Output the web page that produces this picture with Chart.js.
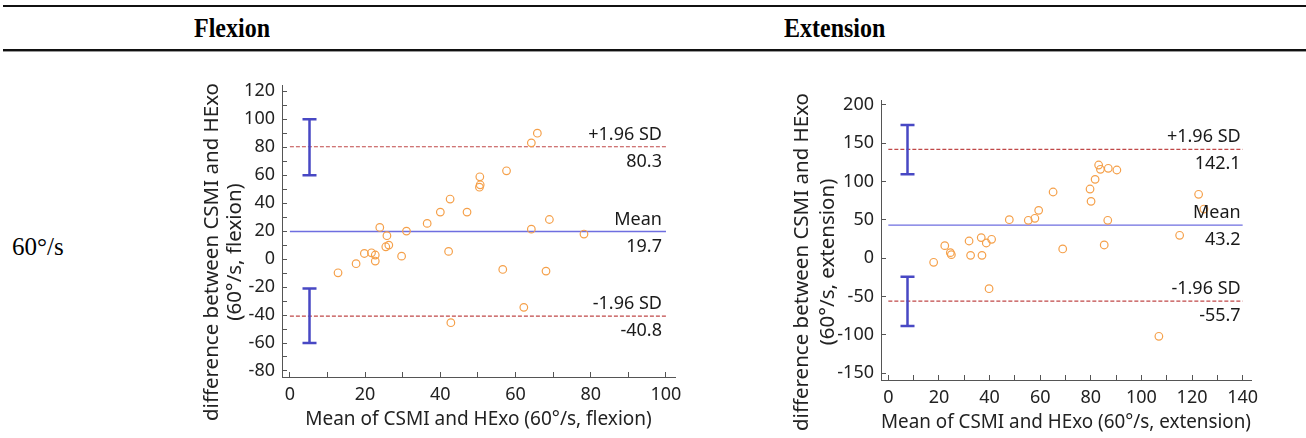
<!DOCTYPE html>
<html>
<head>
<meta charset="utf-8">
<script src="https://cdn.jsdelivr.net/npm/chart.js@4.4.0/dist/chart.umd.min.js"></script>
<style>
html, body { margin: 0; padding: 0; background: #fff; }
body { width: 1306px; height: 438px; position: relative; overflow: hidden; color: #000; }
.rule { position: absolute; left: 3px; width: 1303px; }
.serif { font-family: "Liberation Serif", "Times New Roman", "DejaVu Serif", serif; }
.head { position: absolute; top: 17px; font-size: 24px; line-height: 24px; font-weight: bold; transform: scaleY(1.12); transform-origin: 50% 85%; }
.row { position: absolute; left: 12px; top: 234px; font-size: 25px; line-height: 25px; }
.plot { position: absolute; top: 80px; }
</style>
</head>
<body>
<div class="rule" style="top:5px;height:2px;background:#111"></div>
<div class="rule" style="top:49px;height:2px;background:#111;border-bottom:1px solid #999"></div>
<div class="head serif" style="left:194px">Flexion</div>
<div class="head serif" style="left:784px">Extension</div>
<div class="row serif">60°/s</div>

<div class="plot" style="left:190px"><canvas id="flexChart" width="500" height="358"></canvas></div>
<div class="plot" style="left:780px"><canvas id="extChart" width="520" height="358"></canvas></div>

<script>
// bland-altman plots, 60°/s flexion and extension

// --------------------
// data
// --------------------
const flexMean = [12.8, 17.6, 19.8, 21.7, 22.7, 22.7, 23.9, 25.8, 25.5, 26.3, 29.7, 31.0, 36.5, 40.0, 42.6,
                  42.2, 42.8, 47.1, 50.5, 50.6, 50.4, 57.6, 56.6, 62.2, 64.2, 65.8, 64.2, 69.0, 68.1, 78.2];
const flexDiff = [-9.8, -3.3, 4.0, 4.5, 2.9, -1.4, 22.6, 16.7, 8.8, 10.0, 2.1, 20.0, 25.5, 33.6, 42.9,
                  5.5, -45.5, 33.6, 58.8, 53.1, 51.4, 63.1, -7.4, -34.5, 83.1, 90.0, 21.4, 28.3, -8.6, 17.9];

const extMean = [17.9, 22.3, 24.5, 24.9, 31.9, 32.5, 36.7, 37.0, 38.7, 40.8, 39.8, 47.8, 55.3, 57.9, 59.4,
                 65.1, 68.9, 79.7, 80.1, 81.7, 83.1, 83.8, 86.9, 90.3, 86.7, 85.3, 106.9, 115.1, 122.6, 124.7];
const extDiff = [-5.2, 16.5, 7.4, 4.8, 22.6, 3.9, 27.0, 3.9, 20.0, 24.8, -39.6, 50.4, 49.6, 52.2, 62.6,
                 86.5, 12.2, 90.4, 74.3, 103.0, 121.7, 116.1, 117.4, 115.2, 49.6, 17.4, -101.7, 30.0, 83.5, 64.3];

// limits of agreement: upper, mean, lower
const limitNames = ["+1.96 SD", "Mean", "-1.96 SD"];
const flexLimits = [80.3, 19.7, -40.8];
const extLimits = [142.1, 43.2, -55.7];

// 95% CI of the upper / lower limit
const flexCI = [[60, 100], [-21, -60]];
const extCI = [[109.6, 173.9], [-24, -88.3]];

// tick values
const flexXTicks = [0, 10, 20, 30, 40, 50, 60, 70, 80, 90, 100];
const flexYTicks = [-80, -70, -60, -50, -40, -30, -20, -10, 0, 10, 20, 30, 40, 50, 60, 70, 80, 90, 100, 110, 120];
const extXTicks = [0, 10, 20, 30, 40, 50, 60, 70, 80, 90, 100, 110, 120, 130, 140];
const extYTicks = [-150, -100, -50, 0, 50, 100, 150, 200];


// draws the CI error bars, the labels of the limit lines and the y title
const agreementPlugin = {
    id: "agreement",
    afterDatasetsDraw(chart, args, opts) {
        const ctx = chart.ctx;
        const xs = chart.scales.x;
        const ys = chart.scales.y;
        ctx.save();

        ctx.strokeStyle = "#4848c4";
        ctx.lineWidth = 2.5;
        const px = Math.round(xs.getPixelForValue(opts.ciX)) + 0.5;
        opts.ci.forEach(([a, b]) => {
            const y1 = ys.getPixelForValue(a);
            const y2 = ys.getPixelForValue(b);
            ctx.beginPath();
            ctx.moveTo(px, y1); ctx.lineTo(px, y2);
            ctx.moveTo(px - 7, y1); ctx.lineTo(px + 7, y1);
            ctx.moveTo(px - 7, y2); ctx.lineTo(px + 7, y2);
            ctx.stroke();
        });

        ctx.font = opts.font;
        ctx.fillStyle = "#1a1a1a";
        ctx.textAlign = "right";
        ctx.textBaseline = "alphabetic";
        const right = xs.getPixelForValue(opts.xEnd) - opts.inset;
        opts.limits.forEach((v, i) => {
            const py = ys.getPixelForValue(v);
            ctx.fillText(limitNames[i], right, py - 7);
            ctx.fillText(v.toFixed(1), right, py + 20);
        });
        ctx.restore();
    },
    afterDraw(chart, args, opts) {
        const ctx = chart.ctx;
        ctx.save();
        ctx.font = opts.yTitleFont;
        ctx.fillStyle = "#222";
        ctx.textAlign = "center";
        ctx.textBaseline = "middle";
        opts.yTitle.forEach((line, i) => {
            ctx.save();
            ctx.translate(opts.yTitleX[i], opts.yTitleY);
            ctx.rotate(-Math.PI / 2);
            ctx.fillText(line, 0, 0);
            ctx.restore();
        });
        ctx.restore();
    }
};


function limitLine(v, xEnd, color, dash, width) {
    return {
        data: [{ x: 0, y: v }, { x: xEnd, y: v }],
        showLine: true,
        borderColor: color,
        borderWidth: width,
        borderDash: dash,
        pointRadius: 0,
        order: 2
    };
}

function baChart(id, p) {
    const points = p.mean.map((m, i) => ({ x: m, y: p.diff[i] }));
    return new Chart(document.getElementById(id), {
        type: "scatter",
        data: {
            datasets: [
                {
                    data: points,
                    pointStyle: "circle",
                    pointRadius: 3.8,
                    borderWidth: 1.2,
                    borderColor: "#f5a04a",
                    backgroundColor: "rgba(0,0,0,0)",
                    order: 0
                },
                limitLine(p.limits[0], p.xEnd, "#c04848", [4, 2], 1.2),
                limitLine(p.limits[1], p.xEnd, "#6e6ee0", [], 1.3),
                limitLine(p.limits[2], p.xEnd, "#c04848", [4, 2], 1.2)
            ]
        },
        options: {
            responsive: false,
            animation: false,
            layout: { padding: p.pad },
            plugins: {
                legend: { display: false },
                tooltip: { enabled: false },
                agreement: {
                    ci: p.ci, ciX: p.ciX, limits: p.limits, xEnd: p.xEnd, inset: p.inset,
                    font: "18px 'Noto Sans'",
                    yTitle: p.yTitle, yTitleX: p.yTitleX, yTitleY: p.yTitleY,
                    yTitleFont: "20.5px 'Noto Sans'"
                }
            },
            scales: {
                x: {
                    type: "linear",
                    min: p.xMin,
                    max: p.xMax,
                    afterBuildTicks: s => { s.ticks = p.xTicks.map(v => ({ value: v })); },
                    afterFit: s => { s.height = p.xHeight; s.paddingLeft = 0; s.paddingRight = 0; },
                    border: { color: "#555", width: 1 },
                    grid: { drawOnChartArea: false, tickLength: -5, color: "#555" },
                    ticks: {
                        padding: 12,
                        color: "#222",
                        font: { family: "Noto Sans", size: 18 },
                        maxRotation: 0,
                        autoSkip: false,
                        callback: v => (v % 20 === 0 ? v : "")
                    },
                    title: {
                        display: true,
                        text: p.xTitle,
                        color: "#222",
                        font: { family: "Noto Sans", size: p.xTitleSize, lineHeight: 1.2 },
                        padding: { top: 0, bottom: p.xTitlePad }
                    }
                },
                y: {
                    min: p.yMin,
                    max: p.yMax,
                    afterBuildTicks: s => { s.ticks = p.yTicks.map(v => ({ value: v })); },
                    afterFit: s => { s.width = p.yWidth; s.paddingTop = 0; s.paddingBottom = 0; },
                    border: { color: "#555", width: 1 },
                    grid: { drawOnChartArea: false, tickLength: -5, color: "#555" },
                    ticks: {
                        padding: 12,
                        color: "#222",
                        font: { family: "Noto Sans", size: 18 },
                        autoSkip: false,
                        callback: v => (v % p.yLabelStep === 0 ? v : "")
                    }
                }
            }
        },
        plugins: [agreementPlugin]
    });
}


// --------------------
// Flexion
// --------------------
baChart("flexChart", {
    mean: flexMean, diff: flexDiff, limits: flexLimits, ci: flexCI, ciX: 5,
    xTicks: flexXTicks, yTicks: flexYTicks, yLabelStep: 20,
    xMin: -2.1, xMax: 102.4, yMin: -84.3, yMax: 124.3, xEnd: 100,
    pad: { top: 5, right: 15, left: 0, bottom: 0 },
    xHeight: 61, yWidth: 92,
    xTitle: "Mean of CSMI and HExo (60°/s, flexion)", xTitleSize: 19, xTitlePad: 7,
    yTitle: ["difference between CSMI and HExo", "(60°/s, flexion)"], yTitleX: [22, 45], yTitleY: 172,
    inset: 4
});

// --------------------
// Extension
// --------------------
baChart("extChart", {
    mean: extMean, diff: extDiff, limits: extLimits, ci: extCI, ciX: 7.5,
    xTicks: extXTicks, yTicks: extYTicks, yLabelStep: 50,
    xMin: -2.9, xMax: 143.3, yMin: -158.7, yMax: 206.5, xEnd: 140,
    pad: { top: 20, right: 49, left: 0, bottom: 0 },
    xHeight: 58, yWidth: 101,
    xTitle: "Mean of CSMI and HExo (60°/s, extension)", xTitleSize: 20.5, xTitlePad: 4,
    yTitle: ["difference between CSMI and HExo", "(60°/s, extension)"], yTitleX: [22, 48], yTitleY: 182,
    inset: 2
});
// end
</script>
</body>
</html>
